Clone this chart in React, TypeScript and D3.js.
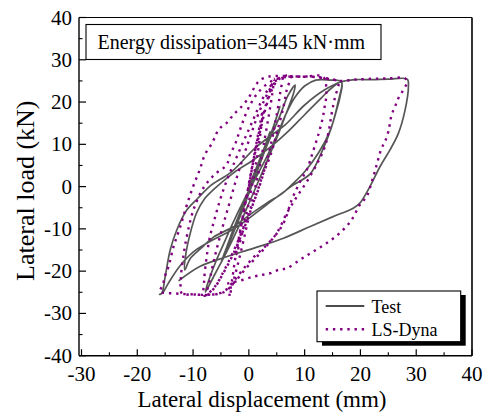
import React from "react";
import * as d3 from "d3";

// Axis ticks
const xTicks = [-30, -20, -10, 0, 10, 20, 30, 40];
const yTicks = [-40, -30, -20, -10, 0, 10, 20, 30, 40];
const xMinor = [-25, -15, -5, 5, 15, 25, 35];
const yMinor = [-35, -25, -15, -5, 5, 15, 25, 35];

// Measured hysteresis: [displacement (mm), load (kN)]
const testCurve: [number, number][] = [
  [0, 0], [1.5, 5], [3, 10], [3.8, 13],
  [3.2, 10.5], [1.5, 4.5], [-0.5, -2.5], [-2.3, -8.5], [-3.2, -11.5],
  [-2.6, -9.5], [-0.8, -3.5], [1.2, 3], [3, 9], [4.6, 15], [5.6, 19],
  [5, 16.5], [3.3, 10], [1.3, 3], [-0.8, -4.5], [-2.8, -11], [-4.3, -16], [-5, -18],
  [-4.3, -15.5], [-2.6, -9.5], [-0.6, -3], [1.5, 4], [3.5, 10.5], [5.5, 16.5], [7, 21.5], [8.3, 24],
  [8, 22], [6.6, 17], [5, 11.5], [3.4, 6.5], [1.8, 1.5], [0, -4], [-2, -10], [-4, -15.5], [-6, -20.5], [-7.8, -25],
  [-7.4, -23], [-6, -18], [-4.5, -13.5], [-3, -9], [-1, -3.5], [1, 1.5], [3, 6.5], [5, 12], [6.6, 17], [8.2, 21], [10, 23.8], [12, 25.2], [14.5, 25.2], [16.6, 24.8],
  [16.3, 21], [15.7, 18], [14.5, 13], [12.5, 8], [10, 3.5], [8, 0.8], [6, -1.6], [3.2, -3.9], [0, -6.8], [-2.8, -9.5], [-6.4, -12], [-8.5, -14.5], [-10.5, -17], [-11.5, -19.7],
  [-11.3, -16], [-10.5, -11], [-9.4, -6.3], [-8, -3], [-6.4, -0.8], [-2.8, 3.2], [0.8, 6.3], [4, 9.5], [7, 13], [10, 17], [13, 21], [15, 23.5], [16.6, 24.7],
  [16, 20], [14.8, 14], [13, 8], [11, 3], [8, 0.4], [5, -2.5], [2, -5.5], [-1, -8.5], [-4, -11], [-7, -13], [-10, -15.5], [-12.5, -19], [-14.5, -23], [-15.5, -25.2], [-16, -25.5],
  [-15.6, -25.2], [-15, -21.3], [-14.1, -15], [-12.9, -10.2], [-11.1, -5.5], [-9.1, -2.7], [-6.7, 0.4], [-3.1, 3.5], [1.1, 9.1], [4.1, 12.2], [6.5, 14.6], [10, 19.3], [13.6, 22.9], [16.6, 24.8],
  [19, 25.3], [22, 25.3], [25, 25.4], [28.4, 25.4],
  [28.6, 23.7], [28, 18.1], [26.8, 12.6], [25.3, 8.7], [23.5, 4.7], [21.7, 0], [19.9, -3.9], [18.7, -5.1], [15.1, -7.1], [10.9, -9.5], [6.2, -12.2], [0.8, -14.6], [-4, -16.6], [-8.8, -18.9], [-12.6, -22.3],
];

// Simulated hysteresis (LS-Dyna)
const dynaCurve: [number, number][] = [
  [0, 0], [0.8, 6], [1.6, 12], [2.5, 18],
  [2.2, 14], [1.6, 8], [0.8, 2], [-0.2, -5], [-1.2, -11], [-2.2, -16],
  [-1.6, -11], [-0.8, -5], [0.2, 2], [1.2, 9], [2.2, 15], [3.2, 20], [4, 23.5], [4.5, 25.5],
  [4.2, 22], [3.6, 17], [2.8, 11], [2, 5], [1, -1], [0, -7], [-1, -13], [-2, -18.5], [-2.8, -22.5], [-3.5, -26],
  [-3, -22], [-2.2, -15], [-1.2, -8], [-0.2, -1], [0.8, 6], [2, 13], [3, 18.5], [4, 22.5], [5, 25], [6, 26.2],
  [5.6, 22], [5, 17], [4.2, 11.5], [3.2, 6], [2, 0.5], [0.5, -5], [-1.2, -11], [-3, -16.5], [-4.8, -21], [-6.2, -24], [-7.5, -25.5],
  [-7, -22], [-6, -16], [-4.8, -10], [-3.5, -4], [-2.2, 2], [-1, 7], [0.3, 12], [1.5, 16.5], [2.8, 20.5], [4, 23.5], [5.5, 25.5], [7.5, 26.4],
  [6.8, 22.9], [6.2, 18.9], [5, 12.6], [3.8, 7.1], [2.6, 3.2], [1.4, -1.6], [0, -6.5], [-1.5, -11.5], [-3, -16], [-4.5, -20], [-6, -23.5], [-8, -25.8],
  [-8, -22], [-7.6, -17], [-7, -12], [-6, -7], [-5, -2.5], [-3.8, 2], [-2.5, 6], [-1.2, 10], [0, 13.5], [1, 16.5], [2, 19.5], [3.2, 22.5], [4.8, 25], [7, 26], [10, 26], [13.3, 26],
  [13.9, 22], [13.6, 19], [13.2, 16], [12.5, 12.5], [11.5, 8.3], [10.4, 4], [9.2, 1.2], [7.7, -3.1], [6.2, -8.7], [4.1, -12.6], [2, -15.8], [-0.3, -19], [-2.5, -22.5], [-4.5, -25], [-7.5, -25.6], [-10, -25.5], [-12, -25.3],
  [-12.2, -22], [-11.8, -17], [-11, -11], [-9.8, -5], [-8, 0], [-6, 3], [-4, 5.1], [-3.4, 7.5], [-2.5, 9.9], [-1.9, 12.2], [-1.3, 14.5], [-0.6, 17], [0.5, 20], [1.5, 22], [3, 24], [5, 25.5], [8, 26], [11, 26], [14, 25.5], [16, 24.8],
  [15.4, 20.9], [14.8, 17], [14.3, 13], [13.5, 9], [12.1, 5.1], [10.4, 1.2], [8.6, -2.4], [6.8, -6.3], [5, -11], [3.2, -13.8], [1, -16.5], [-1, -19.5], [-2.8, -22.5], [-4.5, -24.8], [-7, -25.6], [-10, -25.5], [-13, -25.3], [-16, -24.8],
  [-15.5, -23.5], [-15, -21], [-14.4, -18.9], [-13.5, -14.2], [-12.3, -9.5], [-11.2, -4.7], [-10, 0], [-8.8, 4], [-7.9, 7.5], [-6.5, 10.5], [-5.8, 12.6], [-4.9, 14.2], [-3.7, 15.4], [-2.8, 17], [-1.6, 18.5], [-0.1, 20.9], [1.1, 23.7], [2, 25.2], [3.5, 26], [6, 26.2], [9, 26], [12, 26], [14.5, 25.5], [16.5, 25], [19, 25.3], [22, 25.5], [25, 25.6], [28, 25.6],
  [28.3, 24.5], [27.7, 22.9], [26.8, 20.9], [26.2, 18.9], [25.6, 17], [25, 13], [24.4, 10.6], [23.8, 9.1], [22.9, 5.1], [22.1, 1.4], [21.1, -2.4], [19.9, -4.3], [18.4, -7.9], [16.3, -11], [13.9, -13.4], [11.5, -15.4], [9.2, -17.3], [6.8, -19.3], [5.3, -19.7], [3.8, -20.5], [2.3, -20.9], [0.8, -21.3], [-1.5, -22.2], [-4, -23],
];

const legendLabels = ["Test", "LS-Dyna"];
const annotation = "Energy dissipation=3445 kN·mm";

const FONT = "Liberation Serif, Times New Roman, DejaVu Serif, serif";
const PURPLE = "#800080";

export default function App() {
  const x = d3.scaleLinear().domain([-30, 40]).range([81.5, 472]);
  const y = d3.scaleLinear().domain([-40, 40]).range([355.7, 17.5]);
  const frameL = 79;
  const frameR = 472;
  const frameT = 17.5;
  const frameB = 355.7;

  const line = d3
    .line<[number, number]>()
    .x((d) => x(d[0]))
    .y((d) => y(d[1]))
    .curve(d3.curveCatmullRom.alpha(0.5));

  const txt = { fontFamily: FONT, fill: "#000" } as React.CSSProperties;

  return (
    <svg
      width={488}
      height={416}
      style={{ position: "absolute", left: 0, top: 0, background: "#fff", fontFamily: FONT }}
    >
      <rect x={0} y={0} width={488} height={416} fill="#fff" />

      {/* curves */}
      <path
        d={line(testCurve) || ""}
        fill="none"
        stroke="#262626"
        strokeOpacity={0.78}
        strokeWidth={1.7}
        strokeLinejoin="round"
      />
      <path
        d={line(dynaCurve) || ""}
        fill="none"
        stroke={PURPLE}
        strokeWidth={2.4}
        strokeDasharray="2.4 4.8"
      />

      {/* frame */}
      <line x1={frameL} x2={frameR} y1={frameT} y2={frameT} stroke="#000" strokeWidth={1.2} />
      <line x1={frameR} x2={frameR} y1={frameT} y2={frameB} stroke="#000" strokeWidth={1.6} />
      <line x1={frameL} x2={frameL} y1={frameT} y2={frameB} stroke="#000" strokeWidth={1.4} />
      <line x1={frameL} x2={frameR} y1={frameB} y2={frameB} stroke="#000" strokeWidth={1.4} />

      {/* x ticks */}
      {xTicks.map((t) => (
        <g key={"xt" + t}>
          <line x1={x(t)} x2={x(t)} y1={frameB} y2={frameB - 6.5} stroke="#000" strokeWidth={1.2} />
          <text x={x(t)} y={380.5} textAnchor="middle" fontSize={21} style={txt}>
            {t}
          </text>
        </g>
      ))}
      {xMinor.map((t) => (
        <line key={"xm" + t} x1={x(t)} x2={x(t)} y1={frameB} y2={frameB - 3.5} stroke="#000" strokeWidth={1.1} />
      ))}

      {/* y ticks */}
      {yTicks.map((t) => (
        <g key={"yt" + t}>
          <line x1={frameL} x2={frameL + 7} y1={y(t)} y2={y(t)} stroke="#000" strokeWidth={1.2} />
          <text x={72} y={y(t) + 7} textAnchor="end" fontSize={21} style={txt}>
            {t}
          </text>
        </g>
      ))}
      {yMinor.map((t) => (
        <line key={"ym" + t} x1={frameL} x2={frameL + 3.5} y1={y(t)} y2={y(t)} stroke="#000" strokeWidth={1.1} />
      ))}

      {/* axis titles */}
      <text x={262} y={407} textAnchor="middle" fontSize={23} style={txt}>
        Lateral displacement (mm)
      </text>
      <text
        transform={`translate(34, 190.7) rotate(-90)`}
        textAnchor="middle"
        fontSize={26}
        style={txt}
      >
        Lateral load (kN)
      </text>

      {/* annotation */}
      <rect x={86} y={24.5} width={295} height={35} fill="#fff" stroke="#000" strokeWidth={1.1} />
      <text x={97.5} y={49} fontSize={20} style={txt}>
        {annotation}
      </text>

      {/* legend */}
      <rect x={322} y={295} width={143.7} height={50.7} fill="#000" />
      <rect x={317} y={291} width={143.7} height={50.7} fill="#fff" stroke="#000" strokeWidth={1.1} />
      <line x1={325.7} x2={364.3} y1={306} y2={306} stroke="#111" strokeWidth={1.6} />
      <text x={371.5} y={313} fontSize={18} style={txt}>
        {legendLabels[0]}
      </text>
      <line
        x1={325.7}
        x2={364.3}
        y1={329.3}
        y2={329.3}
        stroke={PURPLE}
        strokeWidth={2.4}
        strokeDasharray="2.4 4.8"
      />
      <text x={371.5} y={335.5} fontSize={18} style={txt}>
        {legendLabels[1]}
      </text>
    </svg>
  );
}
